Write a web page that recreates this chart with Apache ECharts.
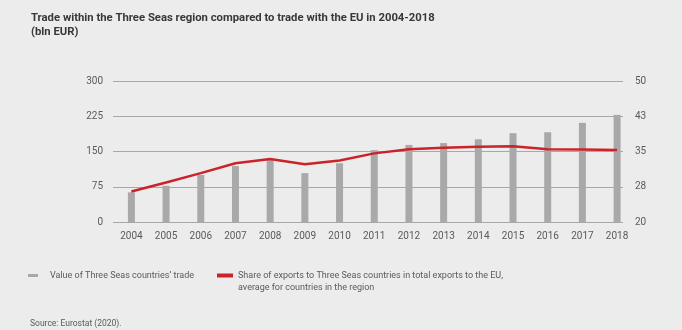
<!DOCTYPE html>
<html>
<head>
<meta charset="utf-8">
<script src="https://cdn.jsdelivr.net/npm/echarts@6/dist/echarts.min.js"></script>
<style>
  html, body { margin: 0; padding: 0; background: #ececec; }
  #chart { width: 682px; height: 330px; }
</style>
</head>
<body>
<div id="chart"></div>
<script>
// years on the x axis
var years = [2004, 2005, 2006, 2007, 2008, 2009, 2010, 2011, 2012, 2013, 2014, 2015, 2016, 2017, 2018];
// value of Three Seas countries' trade (bln EUR, left axis)
var tradeValue = [63, 77, 100, 119, 132, 104, 125, 153, 164, 168, 176, 189, 191, 211, 228];
// share of exports to Three Seas countries in total exports to the EU (%, right axis)
var exportShare = [26.5, 28.4, 30.4, 32.5, 33.4, 32.3, 33.1, 34.6, 35.5, 35.8, 36.0, 36.1, 35.5, 35.4, 35.3];

var barName = 'Value of Three Seas countries\u2019 trade';
var lineName = 'Share of exports to Three Seas countries in total exports to the EU,';
var lineName2 = 'average for countries in the region';

var labelFont = 'Roboto';
var greyText = '#5a5a5a';

function init_chart() {
    var chart = echarts.init(document.getElementById('chart'));
    var barData = years.map(function (y, i) { return [y, tradeValue[i]]; });
    var lineData = years.map(function (y, i) { return [y, exportShare[i]]; });

    var option = {
        backgroundColor: '#ececec',
        animation: false,
        title: {
            text: 'Trade within the Three Seas region compared to trade with the EU in 2004-2018\n(bln EUR)',
            left: 26,
            top: 6,
            textStyle: {
                fontFamily: labelFont,
                fontSize: 11.3,
                fontWeight: 'bold',
                color: '#383838',
                lineHeight: 14
            }
        },
        legend: [{
            left: 23,
            top: 266,
            itemWidth: 10,
            itemHeight: 3,
            itemGap: 0,
            icon: 'rect',
            data: [barName],
            textStyle: { fontFamily: labelFont, fontSize: 9, color: greyText, padding: [0, 0, 0, 7] }
        }, {
            left: 212,
            top: 266,
            itemWidth: 16,
            itemHeight: 4,
            icon: 'rect',
            data: [lineName],
            textStyle: { fontFamily: labelFont, fontSize: 9, color: greyText }
        }],
        grid: {
            left: 113,
            right: 59,
            top: 81,
            bottom: 108
        },
        xAxis: {
            type: 'value',
            min: 2003.47,
            max: 2018.17,
            splitLine: { show: false },
            axisLine: { show: false },
            axisTick: { show: false },
            axisLabel: {
                customValues: years,
                margin: 9,
                fontFamily: labelFont,
                fontSize: 10,
                color: greyText,
                formatter: function (v) { return String(v); }
            }
        },
        yAxis: [{
            type: 'value',
            min: 0,
            max: 300,
            interval: 75,
            axisLine: { show: false },
            axisTick: { show: false },
            splitLine: { lineStyle: { color: '#a8a8a8', width: 1 } },
            axisLabel: { margin: 10, fontFamily: labelFont, fontSize: 10, color: greyText }
        }, {
            type: 'value',
            min: 20,
            max: 50,
            alignTicks: true,
            axisLine: { show: false },
            axisTick: { show: false },
            splitLine: { show: false },
            axisLabel: {
                margin: 12,
                fontFamily: labelFont,
                fontSize: 10,
                color: greyText,
                formatter: function (v) { return Math.round(v); }
            }
        }],
        series: [{
            name: barName,
            type: 'bar',
            yAxisIndex: 0,
            barWidth: 7,
            itemStyle: { color: '#a9a9a9' },
            data: barData
        }, {
            name: lineName,
            type: 'line',
            yAxisIndex: 1,
            showSymbol: false,
            lineStyle: { color: '#cc2229', width: 2.5 },
            itemStyle: { color: '#cc2229' },
            data: lineData
        }],
        graphic: [{
            type: 'text',
            left: 238,
            top: 283,
            style: {
                text: lineName2,
                fontFamily: labelFont,
                fontSize: 9,
                fill: greyText
            }
        }, {
            type: 'text',
            left: 30,
            top: 319,
            style: {
                text: 'Source: Eurostat (2020).',
                fontFamily: labelFont,
                fontSize: 8.5,
                fill: greyText
            }
        }]
    };
    chart.setOption(option);
}
init_chart();
</script>
</body>
</html>
